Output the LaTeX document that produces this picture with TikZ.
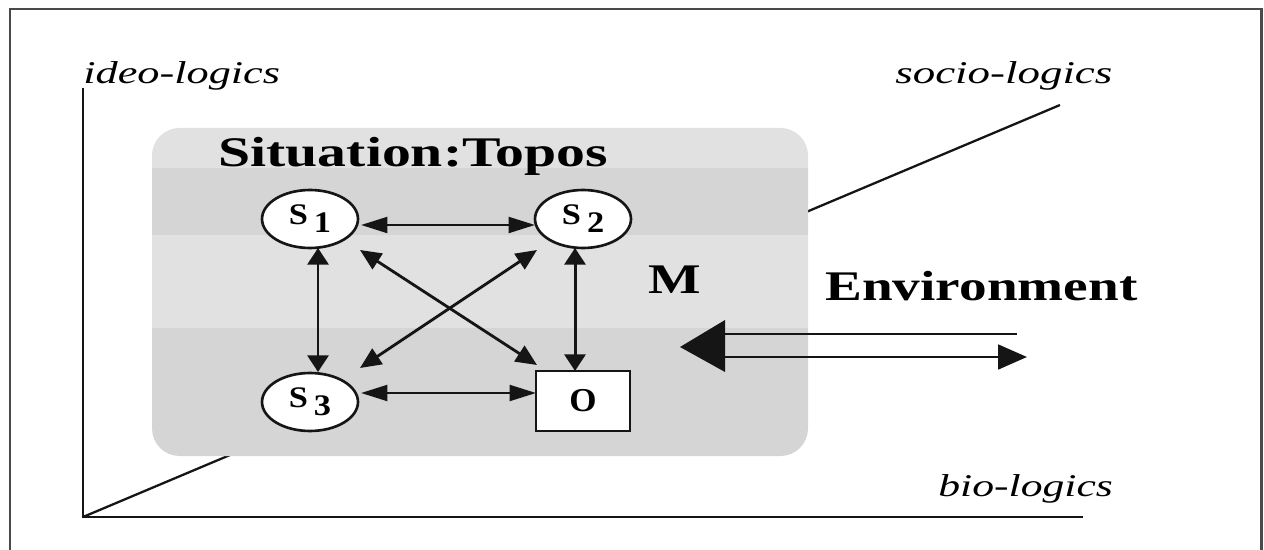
\documentclass[tikz,border=0pt]{standalone}
\usepackage{fontspec}
\setmainfont{Liberation Serif}
\usepackage{graphicx}
\usetikzlibrary{arrows.meta,shapes.geometric}
\definecolor{bandlight}{HTML}{E1E1E1}
\definecolor{banddark}{HTML}{D5D5D5}
\definecolor{inkc}{HTML}{151515}
\definecolor{framec}{HTML}{4A4A4A}
\tikzset{
  snode/.style={ellipse, draw=inkc, line width=1.5pt, fill=white, minimum width=1.92cm, minimum height=1.16cm, inner sep=0pt, font=\fontsize{17}{17}\selectfont\bfseries},
  objbox/.style={rectangle, draw=inkc, line width=1.5pt, fill=white, minimum width=1.88cm, minimum height=1.2cm, inner sep=0pt, font=\fontsize{19}{19}\selectfont\bfseries},
  linkh/.style={line width=1.5pt, draw=inkc, <->, >={Triangle[length=15pt,width=9pt]}},
  linkv/.style={line width=1.7pt, draw=inkc, <->, >={Triangle[length=9.5pt,width=12pt]}},
  linkd/.style={line width=1.6pt, draw=inkc, <->, >={Triangle[length=12pt,width=10.5pt]}},
  axisline/.style={line width=1.3pt, draw=inkc},
  axislabel/.style={anchor=base west, inner sep=0pt, font=\fontsize{18}{18}\selectfont\itshape},
  bigtitle/.style={anchor=base west, inner sep=0pt, font=\fontsize{24}{24}\selectfont\bfseries},
  envline/.style={line width=1.5pt, draw=inkc},
}
\begin{document}
\begin{tikzpicture}[x=0.02cm,y=-0.02cm]
\useasboundingbox (0,0) rectangle (1264,550);
% frame
\draw[framec, line width=1.7pt] (10,560) -- (10,9) -- (1261,9) -- (1261,560);
% axes
\coordinate (origin) at (83,517);
\coordinate (ideoEnd) at (83,88);
\coordinate (bioEnd) at (1083,517);
\coordinate (socioEnd) at (1060,105);
\draw[axisline] (ideoEnd) -- (origin) -- (bioEnd);
\draw[axisline] (origin) -- (socioEnd);
\node[axislabel] (ideo) at (83,84) {\scalebox{1.4}[1]{ideo-logics}};
\node[axislabel] (socio) at (895,84) {\scalebox{1.42}[1]{socio-logics}};
\node[axislabel] (bio) at (938,496) {\scalebox{1.38}[1]{bio-logics}};
% situation box with bands
\begin{scope}
  \path[clip, rounded corners=0.55cm] (152,128) rectangle (808,456);
  \fill[bandlight] (150,126) rectangle (810,168);
  \fill[banddark] (150,168) rectangle (810,235);
  \fill[bandlight] (150,235) rectangle (810,328);
  \fill[banddark] (150,328) rectangle (810,458);
\end{scope}
\node[bigtitle] (title) at (218,167) {\scalebox{1.37}[1]{Situation:Topos}};
\node[bigtitle] (mlabel) at (648,294) {\scalebox{1.32}[1]{M}};
\node[bigtitle] (env) at (825,301) {\scalebox{1.31}[1]{Environment}};
% nodes
\node[snode] (S1) at (310,219) {\scalebox{1.15}[1]{S\hspace{3pt}\raisebox{-4.5pt}{1}}};
\node[snode] (S2) at (583,219) {\scalebox{1.15}[1]{S\hspace{3pt}\raisebox{-4.5pt}{2}}};
\node[snode] (S3) at (310,402) {\scalebox{1.15}[1]{S\hspace{3pt}\raisebox{-4.5pt}{3}}};
\node[objbox] (O) at (583,401) {\scalebox{1.05}[1]{\raisebox{-2pt}{O}}};
% links
\draw[linkh] ([shift={(51,6)}]S1.center) -- ([shift={(-48,6)}]S2.center);
\draw[linkv] ([shift={(8,29)}]S1.center) -- ([shift={(8,-30)}]S3.center);
\draw[linkv] ([shift={(-8,29)}]S2.center) -- ([shift={(-8,-30)}]O.center);
\draw[linkh] ([shift={(51,-9)}]S3.center) -- ([shift={(-47,-8)}]O.center);
\draw[linkd] ([shift={(50,31)}]S1.center) -- ([shift={(-46,-36)}]O.center);
\draw[linkd] ([shift={(-46,31)}]S2.center) -- ([shift={(50,-34)}]S3.center);
% environment arrows
\coordinate (inTail) at (1017,334);
\coordinate (inHead) at (725,334);
\coordinate (outTail) at (725,357);
\coordinate (outHead) at (1027,357);
\draw[envline] (inTail) -- (inHead);
\fill[inkc] (680,347) -- (725,320) -- (725,372) -- cycle;
\draw[envline, -{Triangle[length=16.4pt,width=14pt]}] (outTail) -- (outHead);
\end{tikzpicture}
\end{document}
